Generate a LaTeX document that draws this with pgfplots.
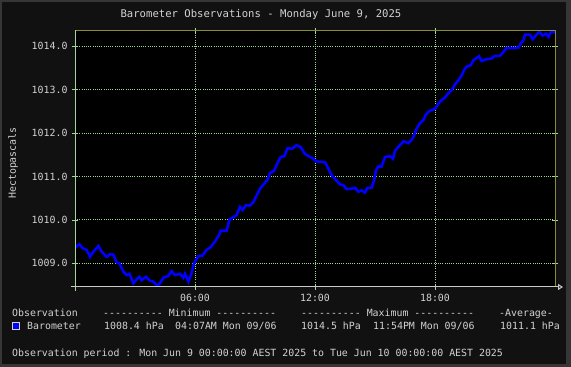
\documentclass[border=0pt]{standalone}
\usepackage{pgfplots}
\pgfplotsset{compat=1.18}
\usepackage{fontspec}
\setmainfont{DejaVu Sans Mono}[Ligatures=TeXOff]
\usetikzlibrary{arrows.meta}
\definecolor{bgpanel}{HTML}{111111}
\definecolor{bgborder}{HTML}{363636}
\definecolor{txt}{HTML}{D2D2D2}
\definecolor{gridg}{HTML}{A0D898}
\definecolor{olive}{HTML}{8A8A38}
\definecolor{axgrey}{HTML}{C8C8C8}
\definecolor{obsblue}{HTML}{0000FF}
\begin{document}
\begin{tikzpicture}[x=1pt,y=1pt,font=\fontsize{9.9}{12}\selectfont]
\fill[bgborder] (0,0) rectangle (571,367);
\fill[bgpanel] (2,3) rectangle (566,365);
\begin{axis}[
  at={(75pt,80pt)}, anchor=south west,
  scale only axis, width=480pt, height=256pt,
  xmin=0, xmax=24, ymin=1008.455, ymax=1014.352,
  axis background/.style={fill=black},
  axis line style={draw=none},
  xtick={6,12,18}, xticklabels={06:00,12:00,18:00},
  ytick={1009,1010,1011,1012,1013,1014},
  yticklabels={1009.0,1010.0,1011.0,1012.0,1013.0,1014.0},
  ticklabel style={font=\fontsize{9.9}{12}\selectfont, text=txt},
  yticklabel style={xshift=-1pt},
  xticklabel style={yshift=-1pt},
  tick align=center, major tick length=6pt,
  tick style={gridg, line width=0.8pt},
  grid=major,
  grid style={gridg, line width=0.9pt, dash pattern=on 1pt off 1.2pt},
  clip=true,
]
\addplot[obsblue, line width=2.6pt, line join=miter] coordinates {
(0.00,1009.36) (0.22,1009.44) (0.38,1009.35) (0.58,1009.31) (0.75,1009.15)
(0.92,1009.27) (1.17,1009.40) (1.33,1009.27) (1.58,1009.15) (1.75,1009.21)
(1.92,1009.20) (2.08,1009.02) (2.22,1009.00) (2.42,1008.81) (2.58,1008.73)
(2.72,1008.76) (2.92,1008.54) (3.08,1008.63) (3.22,1008.69) (3.33,1008.61)
(3.55,1008.69) (3.75,1008.60) (3.92,1008.58) (4.12,1008.48) (4.25,1008.54)
(4.42,1008.67) (4.67,1008.71) (4.83,1008.82) (5.00,1008.73) (5.25,1008.76)
(5.42,1008.67) (5.50,1008.76) (5.67,1008.58) (5.83,1008.78) (5.95,1009.00)
(6.17,1009.17) (6.38,1009.18) (6.58,1009.31) (6.78,1009.37) (7.00,1009.50)
(7.22,1009.67) (7.28,1009.75) (7.58,1009.75) (7.72,1010.00) (7.92,1010.07)
(8.08,1010.11) (8.25,1010.30) (8.38,1010.23) (8.55,1010.34) (8.75,1010.33)
(8.92,1010.41) (9.08,1010.56) (9.25,1010.72) (9.45,1010.83) (9.62,1010.92)
(9.75,1011.08) (9.95,1011.13) (10.12,1011.30) (10.28,1011.45) (10.47,1011.47)
(10.62,1011.65) (10.85,1011.64) (11.08,1011.72) (11.28,1011.68) (11.50,1011.52)
(11.72,1011.46) (11.92,1011.41) (12.05,1011.35) (12.25,1011.34) (12.50,1011.33)
(12.67,1011.18) (12.83,1011.03) (13.05,1010.92) (13.25,1010.82) (13.42,1010.80)
(13.58,1010.71) (13.83,1010.72) (14.00,1010.74) (14.17,1010.65) (14.33,1010.68)
(14.50,1010.63) (14.62,1010.74) (14.83,1010.74) (14.95,1010.90) (15.05,1011.14)
(15.17,1011.23) (15.33,1011.23) (15.50,1011.45) (15.75,1011.47) (15.90,1011.41)
(16.00,1011.59) (16.22,1011.71) (16.42,1011.81) (16.67,1011.77) (16.83,1011.84)
(16.95,1011.94) (17.08,1012.10) (17.25,1012.23) (17.42,1012.30) (17.55,1012.43)
(17.72,1012.51) (18.00,1012.56) (18.17,1012.68) (18.33,1012.76) (18.50,1012.82)
(18.67,1012.92) (18.83,1012.99) (19.00,1013.12) (19.17,1013.22) (19.33,1013.32)
(19.45,1013.45) (19.58,1013.53) (19.78,1013.56) (19.92,1013.68) (20.05,1013.72)
(20.20,1013.77) (20.33,1013.66) (20.50,1013.69) (20.67,1013.71) (20.83,1013.72)
(21.00,1013.78) (21.25,1013.78) (21.42,1013.87) (21.58,1013.96) (21.75,1013.96)
(22.00,1013.96) (22.17,1013.97) (22.28,1014.06) (22.42,1014.14) (22.50,1014.27)
(22.75,1014.27) (22.88,1014.16) (23.08,1014.27) (23.22,1014.33) (23.38,1014.25)
(23.55,1014.29) (23.67,1014.22) (23.80,1014.33) (23.95,1014.34) (24.00,1014.29)
};
\end{axis}
% frame lines
\draw[olive, line width=1pt] (75,336) -- (555,336) -- (555,80);
\draw[gridg, line width=1pt] (75,76) -- (75,337);
\draw[axgrey, line width=1pt, -{Triangle[open,length=5pt,width=6pt]}] (71,80) -- (563,80);
% title and axis label
\node[text=txt, font=\fontsize{10.6}{12}\selectfont] at (261,352) {Barometer Observations - Monday June 9, 2025};
\node[text=txt, rotate=90] at (13,204) {Hectopascals};
% legend table
\node[text=txt, anchor=base west, inner sep=0pt] at (12,50) {Observation};
\node[text=txt, anchor=base west, inner sep=0pt] at (103,50) {---------- Minimum ----------};
\node[text=txt, anchor=base west, inner sep=0pt] at (301,50) {---------- Maximum ----------};
\node[text=txt, anchor=base west, inner sep=0pt] at (499,50) {-Average-};
\fill[txt] (12,37) rectangle (20,45);
\fill[obsblue] (13,38) rectangle (19,44);
\node[text=txt, anchor=base west, inner sep=0pt] at (27,37) {Barometer};
\node[text=txt, anchor=base west, inner sep=0pt] at (104,37) {1008.4 hPa};
\node[text=txt, anchor=base west, inner sep=0pt] at (175,37) {04:07AM Mon 09/06};
\node[text=txt, anchor=base west, inner sep=0pt] at (301,37) {1014.5 hPa};
\node[text=txt, anchor=base west, inner sep=0pt] at (373,37) {11:54PM Mon 09/06};
\node[text=txt, anchor=base west, inner sep=0pt] at (500,37) {1011.1 hPa};
\node[text=txt, anchor=base west, inner sep=0pt] at (12,10) {Observation period : Mon Jun 9 00:00:00 AEST 2025 to Tue Jun 10 00:00:00 AEST 2025};
\end{tikzpicture}
\end{document}
